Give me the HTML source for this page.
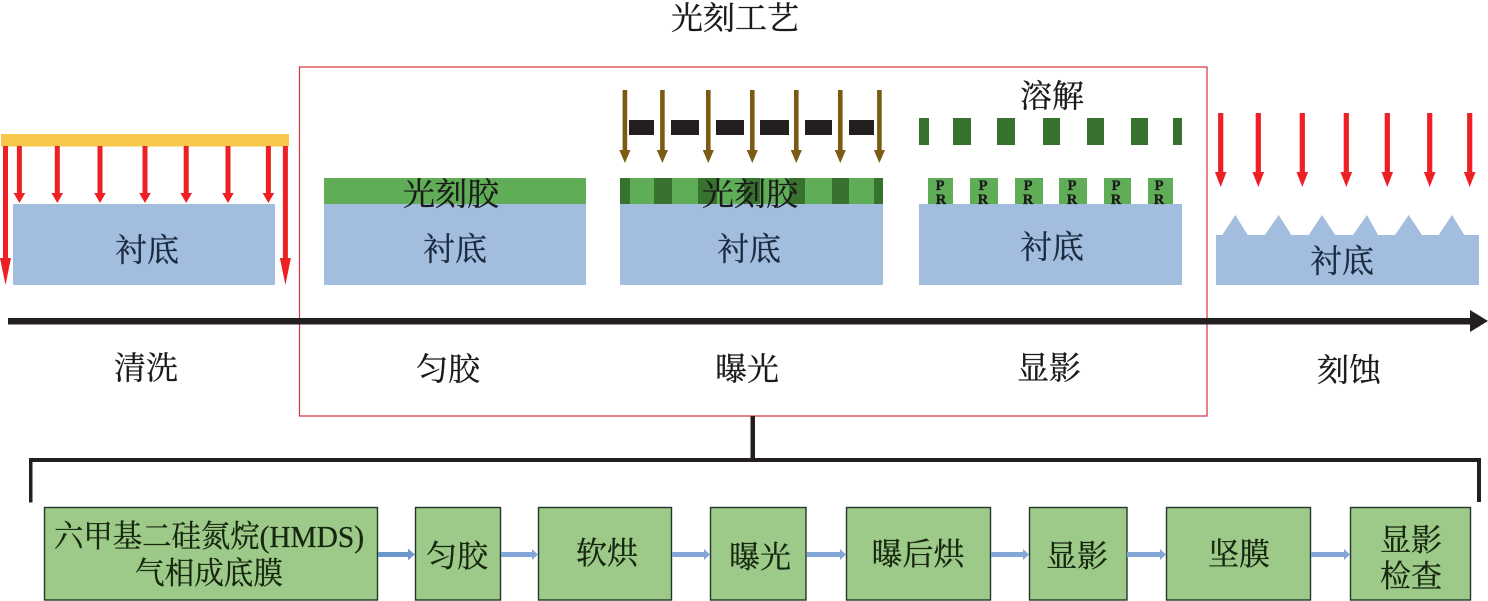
<!DOCTYPE html>
<html lang="zh">
<head>
<meta charset="utf-8">
<title>光刻工艺</title>
<style>
html,body{margin:0;padding:0;background:#fff;width:1488px;height:601px;overflow:hidden}
svg{display:block}
text{font-family:"Liberation Serif","Noto Serif CJK SC",serif;font-size:32px;text-anchor:middle;fill:#1a1a1a;stroke:#1a1a1a;stroke-width:.3}
.s{fill:#1b2a40;stroke:#1b2a40}
.b{fill:#16260f;stroke:#16260f;font-size:31px}
.pr{font-size:14.5px;font-weight:bold;fill:#1a1a1a}
.box{fill:#9dca89;stroke:#24352a;stroke-width:1.4}
</style>
</head>
<body>
<svg width="1488" height="601" viewBox="0 0 1488 601" xmlns="http://www.w3.org/2000/svg">
<defs>
<path id="r1" fill="#ed2024" d="M-2.5 0V47H-5.8L0 57 5.8 47H2.5V0z"/>
<path id="r2" fill="#ed2024" d="M-2.5 0V112H-5.5L0 139 5.5 112H2.5V0z"/>
<path id="r3" fill="#ed2024" d="M-2.6 0V59H-5.8L0 74 5.8 59H2.6V0z"/>
<path id="g" fill="#7b5a14" d="M-2.3 0V60H-5.6L0 73 5.6 60H2.3V0z"/>
</defs>

<text x="735" y="29">光刻工艺</text>

<!-- 清洗 -->
<rect x="13" y="204" width="262" height="81" fill="#a2bddd"/>
<rect x="1" y="134" width="288" height="12.5" fill="#f8c84a"/>
<use href="#r2" x="5.5" y="146"/>
<use href="#r2" x="285.4" y="146"/>
<use href="#r1" x="19.4" y="146"/>
<use href="#r1" x="57.3" y="146"/>
<use href="#r1" x="100" y="146"/>
<use href="#r1" x="145" y="146"/>
<use href="#r1" x="186.2" y="146"/>
<use href="#r1" x="228" y="146"/>
<use href="#r1" x="268.4" y="146"/>
<text class="s" x="147" y="261">衬底</text>

<!-- 匀胶 -->
<rect x="324" y="178" width="262" height="26" fill="#5fad56"/>
<rect x="324" y="204" width="262" height="81" fill="#a2bddd"/>
<text x="451" y="205">光刻胶</text>
<text class="s" x="455" y="260">衬底</text>

<!-- 曝光 -->
<rect x="629" y="120" width="25" height="15" fill="#231f20"/>
<rect x="671" y="120" width="28" height="15" fill="#231f20"/>
<rect x="716" y="120" width="28" height="15" fill="#231f20"/>
<rect x="760" y="120" width="29" height="15" fill="#231f20"/>
<rect x="805" y="120" width="27" height="15" fill="#231f20"/>
<rect x="849" y="120" width="25" height="15" fill="#231f20"/>
<use href="#g" x="624.9" y="90"/>
<use href="#g" x="662.4" y="90"/>
<use href="#g" x="708.3" y="90"/>
<use href="#g" x="752.3" y="90"/>
<use href="#g" x="796.3" y="90"/>
<use href="#g" x="840.3" y="90"/>
<use href="#g" x="879.4" y="90"/>
<rect x="620" y="178" width="263" height="26" fill="#5fad56"/>
<g fill="#38722f">
<rect x="620" y="178" width="10" height="26"/>
<rect x="654" y="178" width="18" height="26"/>
<rect x="698" y="178" width="19" height="26"/>
<rect x="744" y="178" width="16" height="26"/>
<rect x="789" y="178" width="16" height="26"/>
<rect x="832" y="178" width="17" height="26"/>
<rect x="874" y="178" width="9" height="26"/>
</g>
<rect x="620" y="204" width="263" height="81" fill="#a2bddd"/>
<text x="750" y="205">光刻胶</text>
<text class="s" x="749" y="260">衬底</text>

<!-- 显影 -->
<text x="1052" y="107">溶解</text>
<g fill="#38722f">
<rect x="919" y="118" width="10" height="27"/>
<rect x="953" y="118" width="18" height="27"/>
<rect x="997" y="118" width="18" height="27"/>
<rect x="1043" y="118" width="17" height="27"/>
<rect x="1087" y="118" width="17" height="27"/>
<rect x="1131" y="118" width="17" height="27"/>
<rect x="1173" y="118" width="9" height="27"/>
</g>
<g fill="#5fad56">
<rect x="928" y="178" width="25" height="26"/>
<rect x="970" y="178" width="28" height="26"/>
<rect x="1015" y="178" width="28" height="26"/>
<rect x="1059" y="178" width="28" height="26"/>
<rect x="1104" y="178" width="27" height="26"/>
<rect x="1148" y="178" width="25" height="26"/>
</g>
<rect x="919" y="204" width="263" height="81" fill="#a2bddd"/>
<text class="pr" x="940" y="190">P</text><text class="pr" x="941" y="204">R</text>
<text class="pr" x="983" y="190">P</text><text class="pr" x="983" y="204">R</text>
<text class="pr" x="1028" y="190">P</text><text class="pr" x="1028" y="204">R</text>
<text class="pr" x="1072" y="190">P</text><text class="pr" x="1072" y="204">R</text>
<text class="pr" x="1116" y="190">P</text><text class="pr" x="1116" y="204">R</text>
<text class="pr" x="1159" y="190">P</text><text class="pr" x="1159" y="204">R</text>
<text class="s" x="1052" y="258">衬底</text>

<!-- 刻蚀 -->
<use href="#r3" x="1220.7" y="113"/>
<use href="#r3" x="1258.3" y="113"/>
<use href="#r3" x="1302.3" y="113"/>
<use href="#r3" x="1346.3" y="113"/>
<use href="#r3" x="1387.3" y="113"/>
<use href="#r3" x="1429.7" y="113"/>
<use href="#r3" x="1469.7" y="113"/>
<path fill="#a2bddd" d="M1216 285V235H1222.3L1235.3 215 1247.7 235H1264.7L1278.7 215 1291.3 235H1308.7L1322 215 1335.3 235H1353L1367 215 1378 235H1395L1408.7 215 1422 235H1438.7L1452 215 1464.3 235H1479V285z"/>
<text class="s" x="1342" y="272">衬底</text>

<!-- 红框 -->
<rect x="299.5" y="67" width="907.5" height="349" fill="none" stroke="#d8303c" stroke-width="1.2"/>

<!-- 时间轴 -->
<rect x="8" y="318" width="1464" height="6.5" fill="#231f20"/>
<polygon points="1470,310 1488,321 1470,332" fill="#231f20"/>

<text x="146" y="379">清洗</text>
<text x="448" y="380">匀胶</text>
<text x="747" y="380">曝光</text>
<text x="1049" y="379">显影</text>
<text x="1349" y="381">刻蚀</text>

<!-- 括号 -->
<g fill="#231f20">
<rect x="750.5" y="416" width="4.5" height="43"/>
<rect x="29" y="458" width="1452" height="4"/>
<rect x="29" y="458" width="3.5" height="44.5"/>
<rect x="1477" y="458" width="4" height="44"/>
</g>

<!-- 流程 -->
<rect class="box" x="44.5" y="507.5" width="333" height="92.5"/>
<rect class="box" x="415.5" y="507.5" width="85" height="92.5"/>
<rect class="box" x="538.5" y="507.5" width="133" height="92.5"/>
<rect class="box" x="710.5" y="507.5" width="95.5" height="92.5"/>
<rect class="box" x="846.5" y="507.5" width="144" height="92.5"/>
<rect class="box" x="1029.5" y="507.5" width="97.5" height="92.5"/>
<rect class="box" x="1166.5" y="507.5" width="144" height="92.5"/>
<rect class="box" x="1350.5" y="507.5" width="120" height="92.5"/>

<path fill="#6c98cc" d="M378 552H408V548.8L415 554.5 408 560.2V557H378z"/>
<g fill="#83a8d8">
<path d="M501 552H532V549L538 554.5 532 560V557H501z"/>
<path d="M672 552H704V549L710 554.5 704 560V557H672z"/>
<path d="M807 552H840V549L846 554.5 840 560V557H807z"/>
<path d="M991 552H1023V549L1029 554.5 1023 560V557H991z"/>
<path d="M1127 552H1160V549L1166 554.5 1160 560V557H1127z"/>
<path d="M1311 552H1344V549L1350 554.5 1344 560V557H1311z"/>
</g>

<text class="b" x="209" y="547" textLength="310" lengthAdjust="spacingAndGlyphs">六甲基二硅氮烷(HMDS)</text>
<text class="b" x="209" y="584" textLength="148" lengthAdjust="spacingAndGlyphs">气相成底膜</text>
<text class="b" x="457" y="567">匀胶</text>
<text class="b" x="607" y="564">软烘</text>
<text class="b" x="760" y="568">曝光</text>
<text class="b" x="918" y="565">曝后烘</text>
<text class="b" x="1077" y="567">显影</text>
<text class="b" x="1239" y="565">坚膜</text>
<text class="b" x="1411" y="551">显影</text>
<text class="b" x="1411" y="587">检查</text>
</svg>
</body>
</html>
